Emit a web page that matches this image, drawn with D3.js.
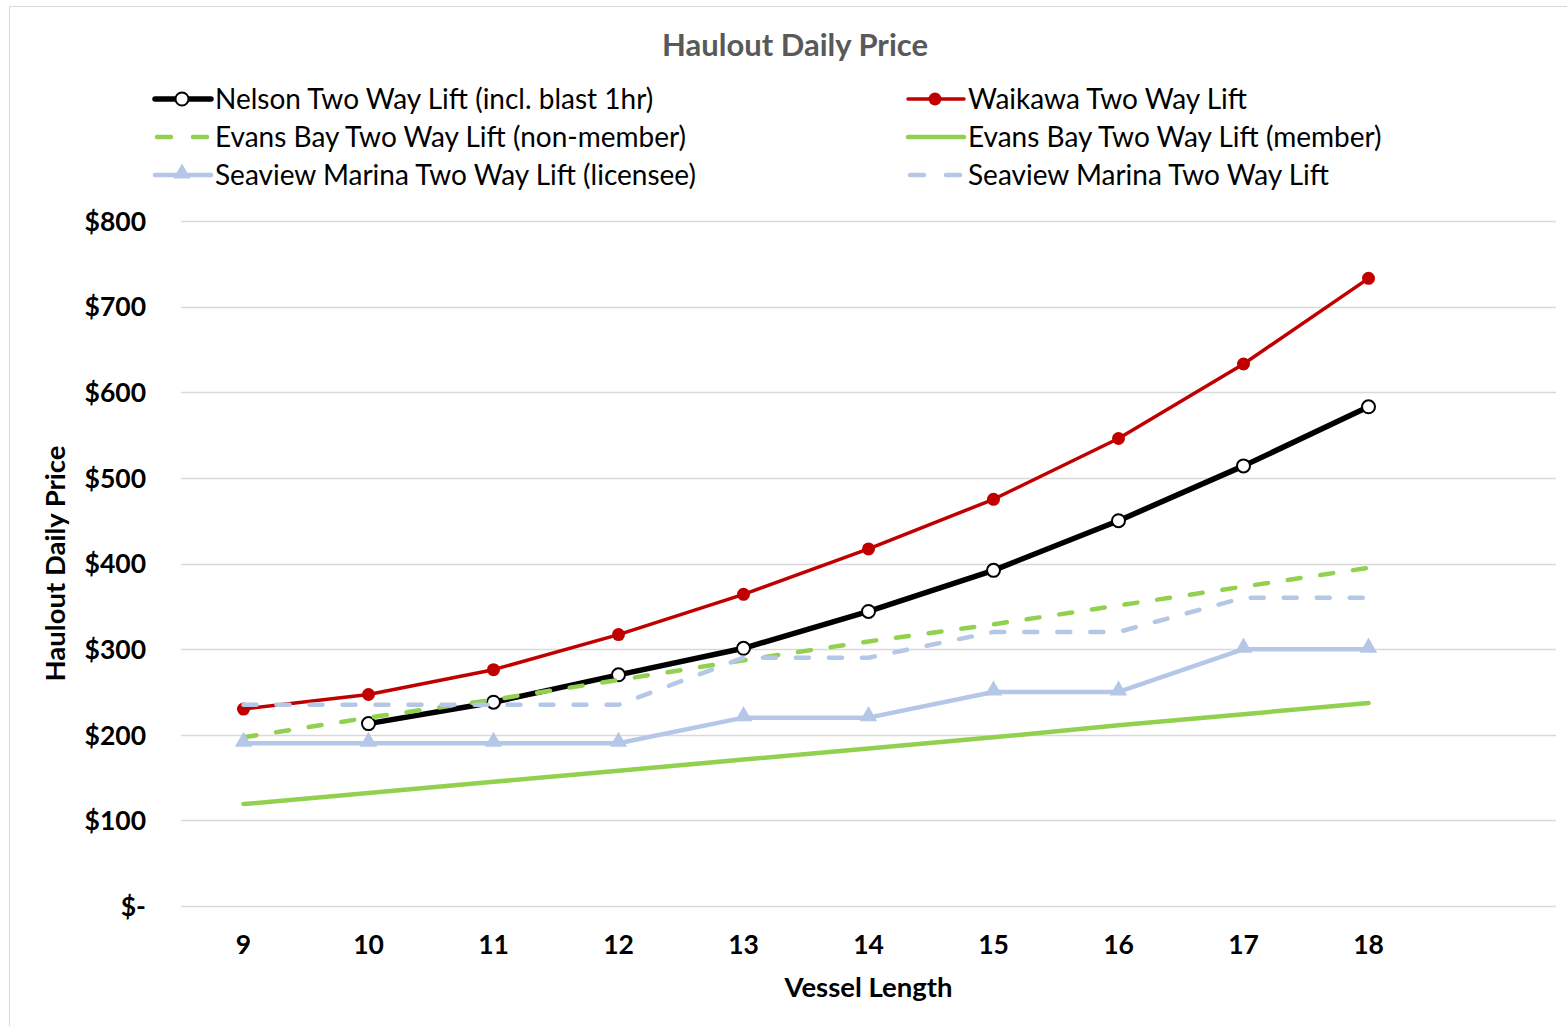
<!DOCTYPE html>
<html>
<head>
<meta charset="utf-8">
<script src="https://cdn.jsdelivr.net/npm/d3@7"></script>
<style>
  html, body { margin: 0; padding: 0; background: #fff; }
  svg { display: block; font-family: Lato, "Open Sans", sans-serif; }
</style>
</head>
<body>
<svg id="chart" width="1567" height="1026"></svg>
<script>
// Vessel lengths (metres); the trailing blank slot leaves room on the right
const lengths = ["9", "10", "11", "12", "13", "14", "15", "16", "17", "18", ""];

// Two-way lift prices per vessel length
const nelson          = [null, 213, 238, 270, 301, 344, 392, 450, 514, 583];
const waikawa         = [230, 247, 276, 317, 364, 417, 475, 546, 633, 733];
const evansNonMember  = [197, 220, 241, 264, 287, 309, 329, 351, 373, 395];
const evansMember     = [119, 132, 145, 158, 171, 184, 197, 211, 224, 237];
const seaviewLicensee = [190, 190, 190, 190, 220, 220, 250, 250, 300, 300];
const seaview         = [235, 235, 235, 235, 290, 290, 320, 320, 360, 360];

const yTicks = [0, 100, 200, 300, 400, 500, 600, 700, 800];

const series = [
  { name: "Nelson Two Way Lift (incl. blast 1hr)", values: nelson, color: "#000000", width: 5.5, dash: null, marker: "openCircle" },
  { name: "Waikawa Two Way Lift", values: waikawa, color: "#C00000", width: 3.5, dash: null, marker: "circle" },
  { name: "Evans Bay Two Way Lift (non-member)", values: evansNonMember, color: "#92D050", width: 4.5, dash: "13,20", marker: null },
  { name: "Evans Bay Two Way Lift (member)", values: evansMember, color: "#92D050", width: 4.5, dash: null, marker: null },
  { name: "Seaview Marina Two Way Lift (licensee)", values: seaviewLicensee, color: "#B4C7E7", width: 4.5, dash: null, marker: "triangle" },
  { name: "Seaview Marina Two Way Lift", values: seaview, color: "#B4C7E7", width: 4.5, dash: "13,20", marker: null }
];

const svg = d3.select("#chart");
const W = 1567, H = 1026;
const plot = { left: 181, right: 1556, top: 221, bottom: 906 };

// Outer chart frame
svg.append("rect")
  .attr("x", 9.5).attr("y", 6.5)
  .attr("width", W + 10).attr("height", H + 10)
  .attr("fill", "#fff").attr("stroke", "#D9D9D9").attr("stroke-width", 1);

const x = d3.scaleBand().domain(lengths).range([plot.left, plot.right]);
const y = d3.scaleLinear().domain([0, 800]).range([plot.bottom, plot.top]);
const cx = i => x(lengths[i]) + x.bandwidth() / 2;

// Horizontal gridlines
svg.append("g")
  .selectAll("line")
  .data(yTicks)
  .join("line")
  .attr("x1", plot.left).attr("x2", plot.right)
  .attr("y1", d => Math.round(y(d)) + 0.5).attr("y2", d => Math.round(y(d)) + 0.5)
  .attr("stroke", "#D9D9D9").attr("stroke-width", 1.5);

// Y axis labels
const yAxis = d3.axisLeft(y).tickValues(yTicks).tickSize(0).tickPadding(0)
  .tickFormat(d => d === 0 ? "$-" : "$" + d);
svg.append("g")
  .attr("transform", `translate(146,0)`)
  .call(yAxis)
  .call(g => g.select(".domain").remove())
  .call(g => g.selectAll("text")
    .attr("font-family", "Lato, sans-serif")
    .attr("font-size", 26.5).attr("font-weight", 700).attr("fill", "#000")
    .attr("dy", "0.35em"));

// X axis labels
const xAxis = d3.axisBottom(x).tickSize(0).tickPadding(0);
svg.append("g")
  .attr("transform", `translate(0,${plot.bottom})`)
  .call(xAxis)
  .call(g => g.select(".domain").remove())
  .call(g => g.selectAll("text")
    .attr("font-family", "Lato, sans-serif")
    .attr("font-size", 26.5).attr("font-weight", 700).attr("fill", "#000")
    .attr("y", 48).attr("dy", 0));

// Axis titles
svg.append("text")
  .attr("x", (plot.left + plot.right) / 2).attr("y", 997)
  .attr("text-anchor", "middle")
  .attr("font-size", 27.5).attr("font-weight", 700).attr("fill", "#000")
  .text("Vessel Length");

svg.append("text")
  .attr("transform", `translate(65,${(plot.top + plot.bottom) / 2}) rotate(-90)`)
  .attr("text-anchor", "middle")
  .attr("font-size", 27.5).attr("font-weight", 700).attr("fill", "#000")
  .text("Haulout Daily Price");

// Chart title
svg.append("text")
  .attr("x", 795).attr("y", 56)
  .attr("text-anchor", "middle")
  .attr("font-size", 31).attr("font-weight", 700).attr("fill", "#595959")
  .text("Haulout Daily Price");

const line = d3.line()
  .defined(d => d.v != null)
  .x(d => cx(d.i))
  .y(d => y(d.v));

const triangle = d3.symbol().type(d3.symbolTriangle).size(130);

function drawMarker(g, kind, color, px, py) {
  if (kind === "openCircle") {
    g.append("circle").attr("cx", px).attr("cy", py).attr("r", 6.5)
      .attr("fill", "#fff").attr("stroke", color).attr("stroke-width", 2);
  } else if (kind === "circle") {
    g.append("circle").attr("cx", px).attr("cy", py).attr("r", 6.5)
      .attr("fill", color);
  } else if (kind === "triangle") {
    g.append("path").attr("d", triangle())
      .attr("transform", `translate(${px},${py - 1.5})`)
      .attr("fill", color);
  }
}

// Series lines and markers, drawn in legend order
const linesG = svg.append("g");
series.forEach(s => {
  const pts = s.values.map((v, i) => ({ i, v }));
  const g = linesG.append("g");
  g.append("path")
    .attr("d", line(pts))
    .attr("fill", "none")
    .attr("stroke", s.color)
    .attr("stroke-width", s.width)
    .attr("stroke-linecap", "round")
    .attr("stroke-linejoin", "round")
    .attr("stroke-dasharray", s.dash);
  if (s.marker) {
    pts.filter(p => p.v != null).forEach(p => drawMarker(g, s.marker, s.color, cx(p.i), y(p.v)));
  }
});

// Legend: two columns, three rows
const legendCols = [153, 906];
const legendRows = [99, 137, 175];
series.forEach((s, k) => {
  const lx = legendCols[k % 2];
  const ly = legendRows[Math.floor(k / 2)];
  const g = svg.append("g");
  g.append("line")
    .attr("x1", s.dash ? lx + 4 : lx + 2).attr("x2", lx + 58)
    .attr("y1", ly).attr("y2", ly)
    .attr("stroke", s.color)
    .attr("stroke-width", s.width)
    .attr("stroke-linecap", "round")
    .attr("stroke-dasharray", s.dash ? "14,22" : null);
  if (s.marker) drawMarker(g, s.marker, s.color, lx + 29, ly);
  g.append("text")
    .attr("x", lx + 62).attr("y", ly)
    .attr("dy", "0.35em")
    .attr("font-size", 28).attr("fill", "#000")
    .text(s.name);
});
</script>
</body>
</html>
